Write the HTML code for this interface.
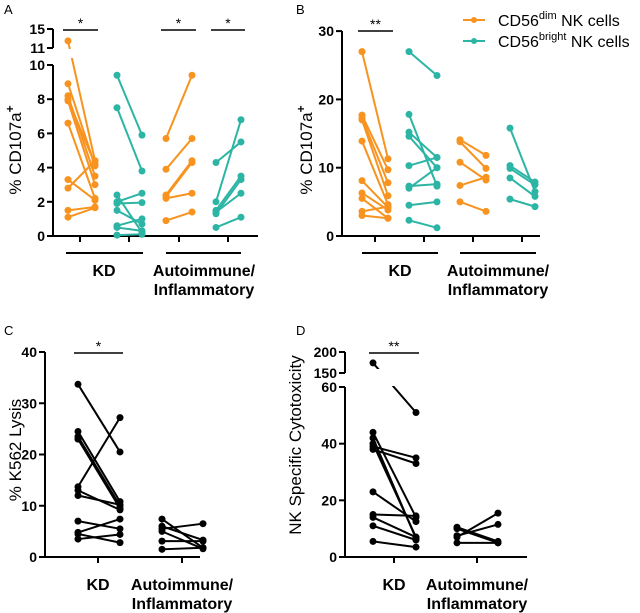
<!DOCTYPE html>
<html><head><meta charset="utf-8"><style>
body{margin:0;background:#fff}
svg{display:block;font-family:"Liberation Sans",Arial,sans-serif}
.tk{font-size:14px;font-weight:bold;text-anchor:end}
.gl{font-size:16px;font-weight:bold;text-anchor:middle}
</style></head><body>
<svg id="fig" width="640" height="613" viewBox="0 0 640 613" xmlns="http://www.w3.org/2000/svg">
<defs>
<clipPath id="clipA"><rect x="0" y="0" width="320" height="49"/><rect x="0" y="58" width="320" height="260"/></clipPath>
<clipPath id="clipD"><rect x="320" y="300" width="320" height="69"/><rect x="320" y="386" width="320" height="227"/></clipPath>
</defs>
<g id="gA"></g>
<g id="gB"></g>
<g id="gC"></g>
<g id="gD"></g>
<text x="4" y="14" font-size="13">A</text>
<text x="296" y="14" font-size="13">B</text>
<text x="4" y="335" font-size="13">C</text>
<text x="296" y="335" font-size="13">D</text>
<g>
<g>
<line x1="463" y1="20" x2="485" y2="20" stroke="#f7931e" stroke-width="2"/><circle cx="474" cy="20" r="3" fill="#f7931e"/>
<text x="498" y="26" font-size="16">CD56<tspan font-size="11" dy="-7">dim</tspan><tspan dy="7"> NK cells</tspan></text></g>
<g>
<line x1="463" y1="41" x2="485" y2="41" stroke="#2cb5a5" stroke-width="2"/><circle cx="474" cy="41" r="3" fill="#2cb5a5"/>
<text x="498" y="47" font-size="16">CD56<tspan font-size="11" dy="-7">bright</tspan><tspan dy="7"> NK cells</tspan></text></g>
</g>
</svg>
<script>
const ORANGE="#f7931e", TEAL="#2cb5a5", BLACK="#000";
// Panel A data (% CD107a+)
const aDimKD=[[12.5,4.4],[8.9,4.1],[8.2,3.5],[8.0,4.2],[7.9,3.0],[6.6,2.2],[3.3,2.1],[2.8,4.4],[1.5,1.7],[1.1,1.65]];
const aBrightKD=[[9.4,5.9],[7.5,3.8],[2.4,0.2],[2.0,2.5],[1.9,1.95],[1.5,0.7],[0.6,1.0],[0.5,0.3],[0.05,0.1]];
const aDimAuto=[[5.7,9.4],[3.9,5.7],[2.4,4.4],[2.3,4.3],[2.2,2.5],[0.9,1.4]];
const aBrightAuto=[[4.3,5.5],[2.0,6.8],[1.5,3.5],[1.3,3.3],[1.4,2.5],[0.5,1.1]];
const aTicks=[0,2,4,6,8,10,11,15];
// Panel B data
const bDimKD=[[27,11.3],[17.7,9.7],[17.3,7.8],[17,5.9],[13.9,4.6],[8.1,4.2],[6.3,3.8],[5.5,2.6],[3.6,4.3],[3,2.6]];
const bBrightKD=[[27,23.5],[17.8,7.3],[15.2,11.5],[14.6,10],[10.3,11.5],[7.3,7.6],[7,10],[4.5,5],[2.3,1.2]];
const bDimAuto=[[14.1,11.8],[13.8,9.9],[10.8,8.2],[7.4,8.6],[5,3.6]];
const bBrightAuto=[[15.8,6.5],[10.3,7.9],[9.9,7.5],[8.5,5.8],[5.4,4.3]];
const bTicks=[0,10,20,30];
// Panel C data (% K562 lysis)
const cKD=[[33.7,20.5],[24.5,10.8],[23.5,10],[23,9.5],[13.7,27.2],[13,9.2],[12,10.2],[7,5.5],[4.8,7.4],[4.5,2.8],[3.5,4.4]];
const cAuto=[[7.4,1.8],[6,3.3],[5,1.6],[3.1,3.1],[1.5,1.8],[5.5,6.5]];
const cTicks=[0,10,20,30,40];
// Panel D data (NK specific cytotoxicity)
const dKD=[[174,51],[44,14],[42,6.5],[40,7],[39,35],[38,33],[23,12.5],[15,14.5],[14,7],[11,6],[5.5,3.5]];
const dAuto=[[10.5,5.5],[10,5],[7.5,11.5],[7,15.5],[5,5]];
const dTicks=[0,20,40,60,150,200];
const groupLabels=["KD","Autoimmune/","Inflammatory"];

const NS="http://www.w3.org/2000/svg";
function mk(p,tag,at){const e=document.createElementNS(NS,tag);for(const k in at)e.setAttribute(k,at[k]);p.appendChild(e);return e;}
function txt(p,x,y,s,cls,extra){const t=mk(p,"text",Object.assign({x:x,y:y},extra||{}));if(cls)t.setAttribute("class",cls);t.textContent=s;return t;}

const yA=v=>v<=10?236-v*17.1:48-(v-11)*19/4;
const yB=v=>236-v*6.83;
const yC=v=>557-v*5.125;
const yD=v=>v<=60?557-v*2.833:373-(v-150)*21/50;

function pairs(g,data,x1,x2,ys,col,name,clip){
  const gg=mk(g,"g",{});
  
  
  if(clip)gg.setAttribute("clip-path","url(#"+clip+")");
  data.forEach((d,i)=>{
    const l=mk(gg,"line",{x1:x1,y1:ys(d[0]),x2:x2,y2:ys(d[1]),stroke:col,"stroke-width":2});
    
    
    [[x1,d[0]],[x2,d[1]]].forEach(p=>{
      const c=mk(gg,"circle",{cx:p[0],cy:ys(p[1]),r:3.5,fill:col});
      
      
    });
  });
}
function ytick(g,ax,v,ys,name){
  const y=ys(v);
  mk(g,"line",{x1:ax-6,y1:y,x2:ax,y2:y,stroke:"#000","stroke-width":2});
  const t=txt(g,ax-8,y+5,String(v),"tk");
  
  
}
function sig(g,x1,x2,y,s){
  mk(g,"line",{x1:x1,y1:y,x2:x2,y2:y,stroke:"#000","stroke-width":1.5});
  const t=txt(g,(x1+x2)/2,y-2,s,null,{"font-size":14,"text-anchor":"middle"});
  
  
}
function ytitle(g,x,y,s,sup){
  const t=mk(g,"text",{transform:"translate("+x+","+y+") rotate(-90)","text-anchor":"middle","font-size":17});
  t.textContent=s;
  if(sup){const ts=mk(t,"tspan",{dy:-7,"font-size":12,"font-weight":"bold"});ts.textContent=sup;}
  
  
}

// Panel A
(function(){
  const g=document.getElementById("gA");
  mk(g,"line",{x1:53,y1:236,x2:53,y2:65,stroke:"#000","stroke-width":2});
  mk(g,"line",{x1:53,y1:48,x2:53,y2:29,stroke:"#000","stroke-width":2});
  mk(g,"line",{x1:52,y1:236,x2:258,y2:236,stroke:"#000","stroke-width":2});
  [80,129,179,228].forEach(x=>mk(g,"line",{x1:x,y1:236,x2:x,y2:242,stroke:"#000","stroke-width":2}));
  aTicks.forEach(v=>ytick(g,53,v,yA,"y-tick-label"));
  pairs(g,aDimKD,68,95,yA,ORANGE,"series-dim-kd","clipA");
  pairs(g,aBrightKD,117,142,yA,TEAL,"series-bright-kd","clipA");
  pairs(g,aDimAuto,166,192,yA,ORANGE,"series-dim-auto","clipA");
  pairs(g,aBrightAuto,216,241,yA,TEAL,"series-bright-auto","clipA");
  sig(g,63,98,30,"*");sig(g,161,196,30,"*");sig(g,211,245,30,"*");
  mk(g,"line",{x1:66,y1:253,x2:143,y2:253,stroke:"#000","stroke-width":2});
  mk(g,"line",{x1:166,y1:253,x2:241,y2:253,stroke:"#000","stroke-width":2});
  txt(g,104,276,groupLabels[0],"gl");txt(g,204,276,groupLabels[1],"gl");txt(g,204,295,groupLabels[2],"gl");
  ytitle(g,21,150,"% CD107a","+");
})();
// Panel B
(function(){
  const g=document.getElementById("gB");
  mk(g,"line",{x1:342,y1:236,x2:342,y2:31,stroke:"#000","stroke-width":2});
  mk(g,"line",{x1:341,y1:236,x2:540,y2:236,stroke:"#000","stroke-width":2});
  [375,424,473,522].forEach(x=>mk(g,"line",{x1:x,y1:236,x2:x,y2:242,stroke:"#000","stroke-width":2}));
  bTicks.forEach(v=>ytick(g,342,v,yB,"y-tick-label"));
  pairs(g,bDimKD,362,388,yB,ORANGE,"series-dim-kd");
  pairs(g,bBrightKD,409,437,yB,TEAL,"series-bright-kd");
  pairs(g,bDimAuto,460,486,yB,ORANGE,"series-dim-auto");
  pairs(g,bBrightAuto,510,535,yB,TEAL,"series-bright-auto");
  sig(g,358,393,31,"**");
  mk(g,"line",{x1:362,y1:253,x2:438,y2:253,stroke:"#000","stroke-width":2});
  mk(g,"line",{x1:460,y1:253,x2:536,y2:253,stroke:"#000","stroke-width":2});
  txt(g,400,276,groupLabels[0],"gl");txt(g,498,276,groupLabels[1],"gl");txt(g,498,295,groupLabels[2],"gl");
  ytitle(g,312,150,"% CD107a","+");
})();
// Panel C
(function(){
  const g=document.getElementById("gC");
  mk(g,"line",{x1:45,y1:557,x2:45,y2:352,stroke:"#000","stroke-width":2});
  mk(g,"line",{x1:44,y1:557,x2:200,y2:557,stroke:"#000","stroke-width":2});
  [98,182].forEach(x=>mk(g,"line",{x1:x,y1:557,x2:x,y2:563,stroke:"#000","stroke-width":2}));
  cTicks.forEach(v=>ytick(g,45,v,yC,"y-tick-label"));
  pairs(g,cKD,78,120,yC,BLACK,"series-kd");
  pairs(g,cAuto,162,203,yC,BLACK,"series-auto");
  sig(g,74,123,353,"*");
  txt(g,98,590,groupLabels[0],"gl");txt(g,182,590,groupLabels[1],"gl");txt(g,182,609,groupLabels[2],"gl");
  ytitle(g,21,450,"% K562 Lysis");
})();
// Panel D
(function(){
  const g=document.getElementById("gD");
  mk(g,"line",{x1:345,y1:557,x2:345,y2:387,stroke:"#000","stroke-width":2});
  mk(g,"line",{x1:345,y1:373,x2:345,y2:352,stroke:"#000","stroke-width":2});
  mk(g,"line",{x1:344,y1:557,x2:527,y2:557,stroke:"#000","stroke-width":2});
  [394,477].forEach(x=>mk(g,"line",{x1:x,y1:557,x2:x,y2:563,stroke:"#000","stroke-width":2}));
  dTicks.forEach(v=>ytick(g,345,v,yD,"y-tick-label"));
  pairs(g,dKD,373,416,yD,BLACK,"series-kd","clipD");
  pairs(g,dAuto,457,498,yD,BLACK,"series-auto","clipD");
  sig(g,369,419,353,"**");
  txt(g,394,590,groupLabels[0],"gl");txt(g,477,590,groupLabels[1],"gl");txt(g,477,609,groupLabels[2],"gl");
  ytitle(g,301,445,"NK Specific Cytotoxicity");
})();
</script>
</body></html>
